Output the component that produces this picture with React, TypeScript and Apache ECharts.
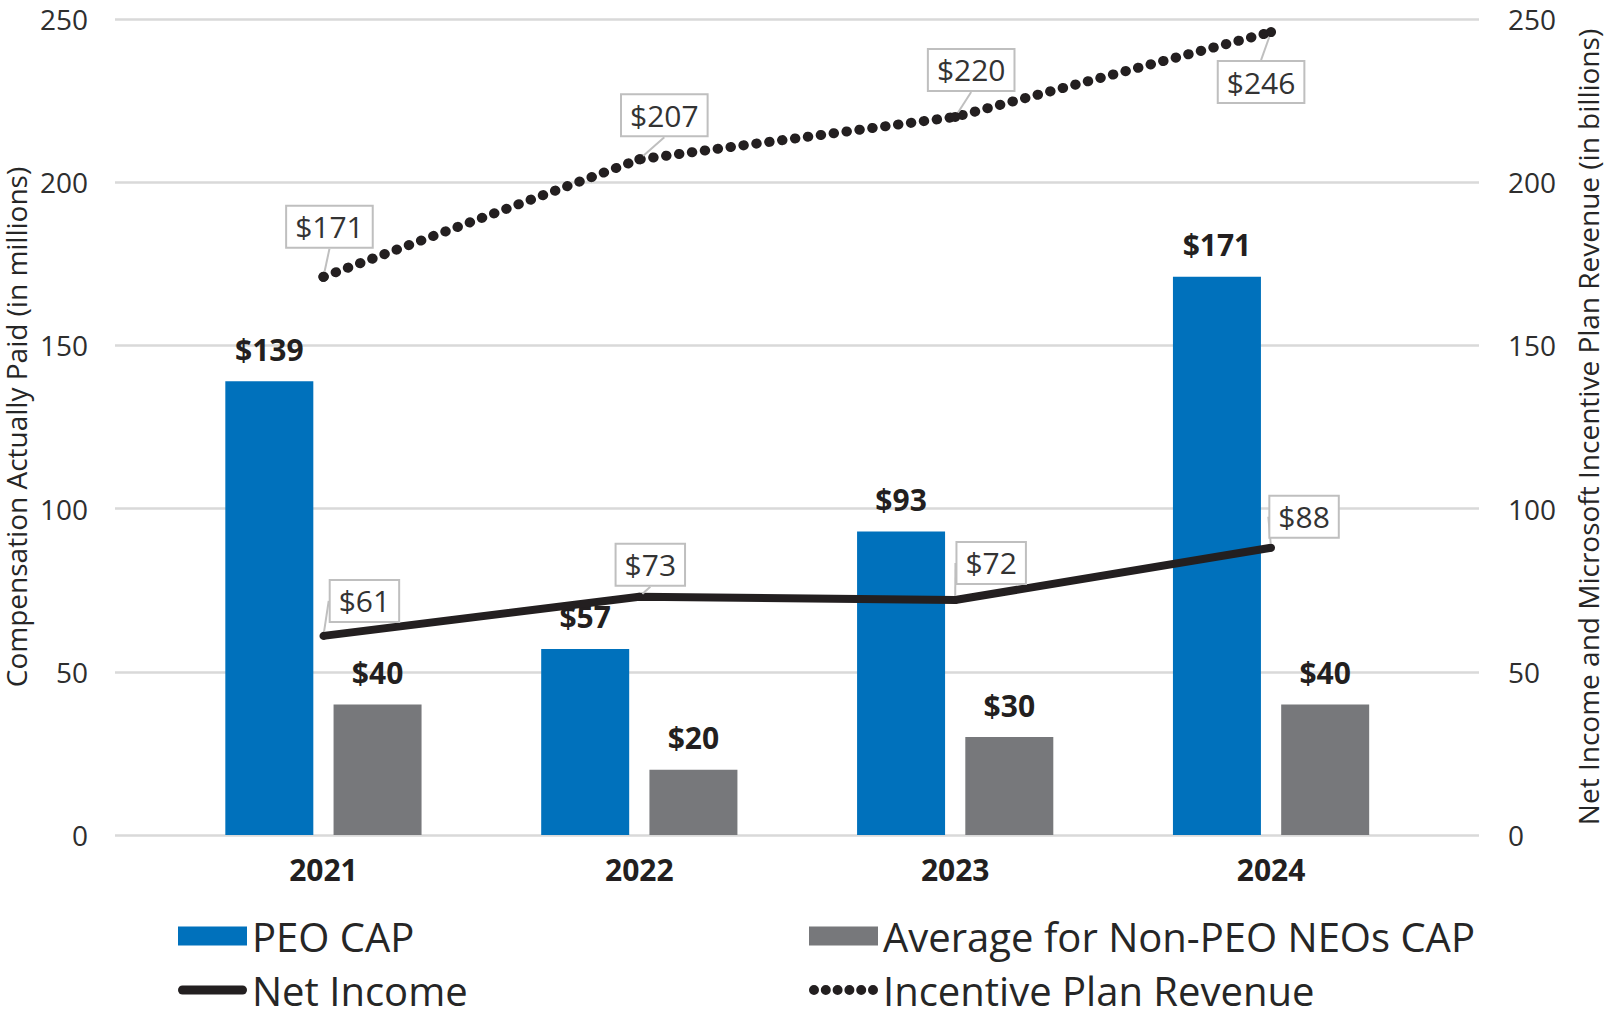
import { useEffect, useRef } from "react";
import * as echarts from "echarts";

// ---- data ----
const years = ["2021", "2022", "2023", "2024"];
const peoCap = [139, 57, 93, 171];
const nonPeoCap = [40, 20, 30, 40];
const netIncome = [61, 73, 72, 88];
const incentiveRevenue = [171, 207, 220, 246];
const yTicks = [0, 50, 100, 150, 200, 250];

// ---- layout constants (callout offsets relative to their point) ----
const incOffsets = [[6, -50], [25, -44], [16, -47], [-10, 50]];
const niOffsets = [[41, -35], [11, -32], [36, -37], [33, -31]];

const FONT = "'Open Sans', 'Noto Sans', sans-serif";
const BLUE = "#0071bc";
const GRAY = "#77787b";
const INK = "#231f20";

function dotsPath(): string {
  let d = "";
  for (let i = 0; i < 6; i++) {
    const cx = 5 + i * 11.8;
    d += `M${cx - 5} 5a5 5 0 1 0 10 0a5 5 0 1 0 -10 0Z`;
  }
  return "path://" + d;
}
const capsulePath = "path://M4.5 0H64.5A4.5 4.5 0 0 1 64.5 9H4.5A4.5 4.5 0 0 1 4.5 0Z";

export default function App() {
  const ref = useRef<HTMLDivElement>(null);
  useEffect(() => {
    if (!ref.current) return;
    const chart = echarts.init(ref.current, undefined, { renderer: "svg" });
    const yMin = yTicks[0];
    const yMax = yTicks[yTicks.length - 1];
    const yInt = yTicks[1] - yTicks[0];
    const legendText = { fontSize: 40, color: "#262626", fontFamily: FONT, lineHeight: 46 };
    const barLabel = {
      show: true, position: "top", distance: 17, fontSize: 30, fontWeight: "bold",
      color: INK, fontFamily: FONT, formatter: (p: any) => "$" + p.value,
    };
    const calloutLabel = {
      show: true,
      position: "inside",
      fontSize: 30,
      fontFamily: FONT,
      color: "#333333",
      backgroundColor: "#ffffff",
      borderColor: "#bfbfbf",
      borderWidth: 2,
      padding: [2, 8],
      lineHeight: 36,
      formatter: (p: any) => "$" + Math.round(p.value),
    };
    const tickLabel = { fontSize: 28, color: "#2e2e2e", fontFamily: FONT };
    const nameStyle = { fontSize: 28, lineHeight: 26, color: "#262626", fontFamily: FONT };
    const option: any = {
      animation: false,
      textStyle: { fontFamily: FONT },
      grid: [
        { left: 115, right: 125, top: 19, bottom: 183, outerBoundsMode: "none", containLabel: false },
        { left: 165.5, right: 175, top: 19, bottom: 183, outerBoundsMode: "none", containLabel: false },
      ],
      xAxis: [
        { type: "value", gridIndex: 0, show: false, min: 0, max: 1 },
        {
          type: "category",
          gridIndex: 1,
          data: years,
          axisLine: { show: false },
          axisTick: { show: false },
          axisLabel: { fontSize: 30, fontWeight: "bold", color: INK, fontFamily: FONT, margin: 19 },
        },
      ],
      yAxis: [
        {
          type: "value",
          gridIndex: 0,
          position: "left",
          min: yMin,
          max: yMax,
          interval: yInt,
          axisLine: { show: false },
          axisTick: { show: false },
          splitLine: { show: true, lineStyle: { color: "#d9d9d9", width: 2.5 } },
          axisLabel: { ...tickLabel, margin: 27 },
          name: "Compensation Actually Paid (in millions)",
          nameLocation: "middle",
          nameGap: 86,
          nameMoveOverlap: false,
          nameRotate: 90,
          nameTextStyle: nameStyle,
        },
        {
          type: "value",
          gridIndex: 0,
          position: "right",
          min: yMin,
          max: yMax,
          interval: yInt,
          axisLine: { show: false },
          axisTick: { show: false },
          splitLine: { show: false },
          axisLabel: { ...tickLabel, margin: 29 },
          name: "Net Income and Microsoft Incentive Plan Revenue (in billions)",
          nameLocation: "middle",
          nameGap: 96,
          nameMoveOverlap: false,
          nameRotate: 90,
          nameTextStyle: nameStyle,
        },
        { type: "value", gridIndex: 1, min: yMin, max: yMax, interval: yInt, show: false, splitLine: { show: false } },
        { type: "value", gridIndex: 1, min: yMin, max: yMax, interval: yInt, show: false, position: "right", splitLine: { show: false } },
      ],
      legend: [
        {
          data: ["PEO CAP"], left: 178, top: 913, padding: 0, itemWidth: 69, itemHeight: 19,
          icon: "rect", selectedMode: false, textStyle: legendText,
        },
        {
          data: ["Average for Non-PEO NEOs CAP"], left: 809, top: 913, padding: 0, itemWidth: 69, itemHeight: 19,
          icon: "rect", selectedMode: false, textStyle: legendText,
        },
        {
          data: ["Net Income"], left: 178, top: 967, padding: 0, itemWidth: 69, itemHeight: 9,
          icon: capsulePath, selectedMode: false, textStyle: legendText,
        },
        {
          data: ["Incentive Plan Revenue"], left: 809, top: 967, padding: 0, itemWidth: 69, itemHeight: 10,
          icon: dotsPath(), selectedMode: false, textStyle: legendText,
        },
      ],
      series: [
        {
          name: "PEO CAP",
          type: "bar",
          xAxisIndex: 1,
          yAxisIndex: 2,
          data: peoCap,
          barWidth: 88,
          barGap: "23%",
          itemStyle: { color: BLUE },
          emphasis: { disabled: true },
          label: barLabel,
        },
        {
          name: "Average for Non-PEO NEOs CAP",
          type: "bar",
          xAxisIndex: 1,
          yAxisIndex: 2,
          data: nonPeoCap,
          barWidth: 88,
          barGap: "23%",
          itemStyle: { color: GRAY },
          emphasis: { disabled: true },
          label: barLabel,
        },
        {
          name: "Net Income",
          type: "line",
          xAxisIndex: 1,
          yAxisIndex: 3,
          data: netIncome,
          symbol: "circle",
          symbolSize: 8,
          showSymbol: true,
          lineStyle: { color: INK, width: 8 },
          itemStyle: { color: INK },
          emphasis: { disabled: true },
          z: 3,
          label: calloutLabel,
          labelLine: { show: true, lineStyle: { color: "#bfbfbf", width: 2 } },
          labelLayout: (p: any) => ({ dx: niOffsets[p.dataIndex][0], dy: niOffsets[p.dataIndex][1] }),
        },
        {
          name: "Incentive Plan Revenue",
          type: "line",
          xAxisIndex: 1,
          yAxisIndex: 3,
          data: incentiveRevenue,
          symbol: "circle",
          symbolSize: 10,
          showSymbol: true,
          lineStyle: { color: INK, width: 10, type: [0.5, 12.5], cap: "round" },
          itemStyle: { color: INK },
          emphasis: { disabled: true },
          z: 3,
          label: calloutLabel,
          labelLine: { show: true, lineStyle: { color: "#bfbfbf", width: 2 } },
          labelLayout: (p: any) => ({ dx: incOffsets[p.dataIndex][0], dy: incOffsets[p.dataIndex][1] }),
        },
      ],
    };
    chart.setOption(option);
    return () => chart.dispose();
  }, []);
  return (
    <div
      ref={ref}
      style={{ position: "fixed", left: 0, top: 0, width: 1604, height: 1018, background: "#ffffff" }}
    />
  );
}
